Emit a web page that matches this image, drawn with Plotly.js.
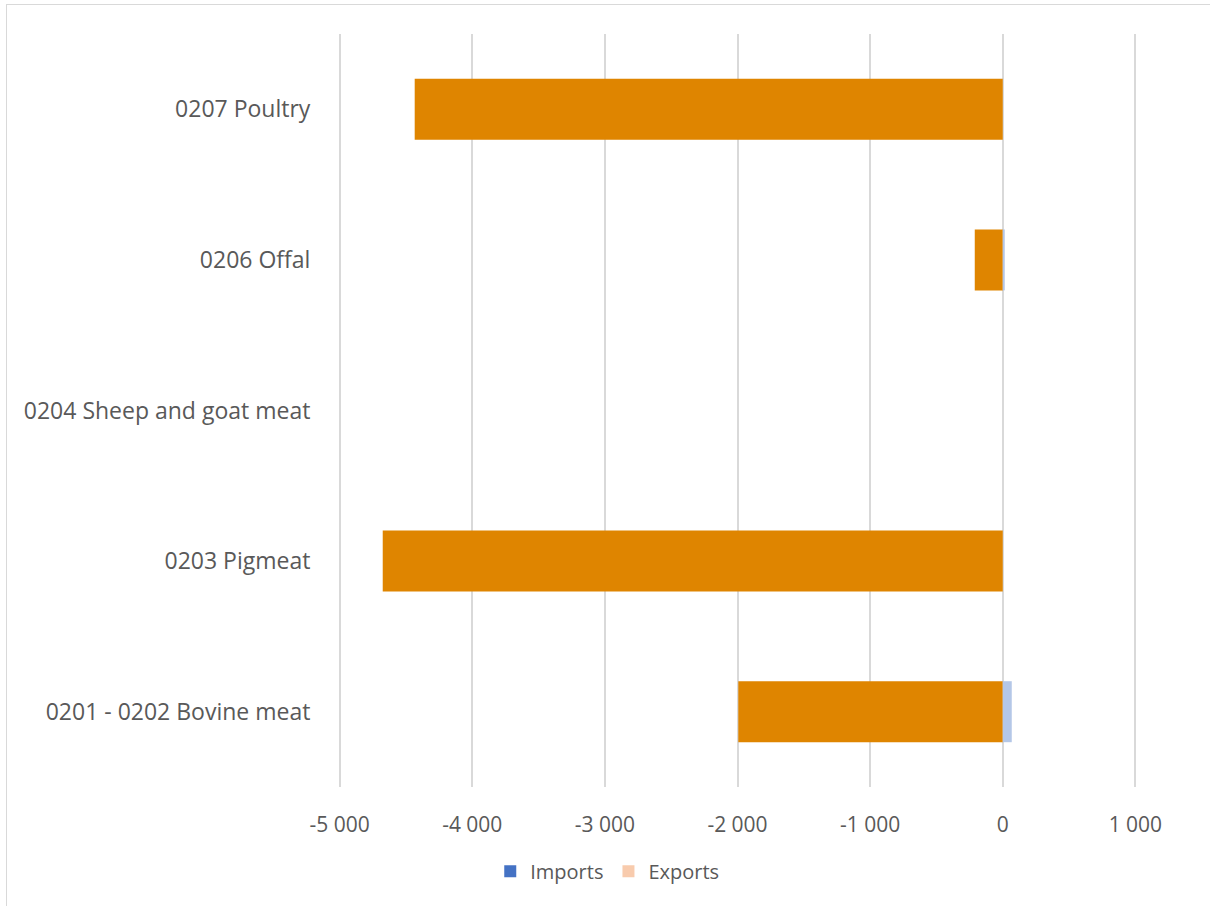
<!DOCTYPE html>
<html>
<head>
<meta charset="utf-8">
<script src="https://cdn.plot.ly/plotly-3.0.1.min.js"></script>
<style>
  html, body { margin: 0; padding: 0; background: #ffffff; }
  #wrap { position: relative; width: 1210px; height: 907px; overflow: hidden; }
  #chart { position: absolute; left: 0; top: 0; width: 1210px; height: 907px; }
  #frame { position: absolute; left: 6px; top: 4px; width: 1300px; height: 901px;
           border-top: 1px solid #d9d9d9; border-left: 1px solid #d9d9d9;
           pointer-events: none; }
</style>
</head>
<body>
<div id="wrap">
  <div id="chart"></div>
  <div id="frame"></div>
</div>
<script>
// Meat product groups, listed bottom to top
const categories = [
  '0201 - 0202 Bovine meat',
  '0203 Pigmeat',
  '0204 Sheep and goat meat',
  '0206 Offal',
  '0207 Poultry'
];

// Trade balance per product group (negative part)
const balanceNegative = [-1994, -4675, 0, -211, -4434];
// Trade balance per product group (positive part)
const balancePositive = [68, 0, 0, 15, 0];

// Legend series
const legendNames = ['Imports', 'Exports'];

const textColor = '#595959';
const gridColor = '#d9d9d9';

const traces = [
  {
    type: 'bar', orientation: 'h', name: 'Net balance',
    y: categories, x: balanceNegative,
    marker: { color: '#df8500', line: { width: 0 } },
    showlegend: false, hoverinfo: 'x+y'
  },
  {
    type: 'bar', orientation: 'h', name: 'Positive balance',
    y: categories, x: balancePositive,
    marker: { color: '#b4c7e7', line: { width: 0 } },
    showlegend: false, hoverinfo: 'x+y'
  },
  {
    type: 'bar', orientation: 'h', name: legendNames[0],
    y: [categories[0]], x: [null],
    marker: { color: '#4472c4' }, showlegend: true, hoverinfo: 'skip'
  },
  {
    type: 'bar', orientation: 'h', name: legendNames[1],
    y: [categories[0]], x: [null],
    marker: { color: '#f8cbad' }, showlegend: true, hoverinfo: 'skip'
  }
];

const layout = {
  width: 1210, height: 907,
  paper_bgcolor: '#ffffff', plot_bgcolor: '#ffffff',
  margin: { l: 333, r: 68, t: 34, b: 120, pad: 0 },
  barmode: 'relative',
  bargap: 0.595,
  font: { family: '"Open Sans", "DejaVu Sans", sans-serif', color: textColor },
  xaxis: {
    range: [-5050, 1050],
    tickvals: [-5000, -4000, -3000, -2000, -1000, 0, 1000],
    ticktext: ['-5 000', '-4 000', '-3 000', '-2 000', '-1 000', '0', '1 000'],
    showgrid: true, gridcolor: gridColor, gridwidth: 2,
    zeroline: true, zerolinecolor: gridColor, zerolinewidth: 2,
    showline: false,
    ticks: 'outside', ticklen: 19, tickcolor: 'rgba(0,0,0,0)',
    tickfont: { size: 21, color: textColor },
    fixedrange: true
  },
  yaxis: {
    type: 'category',
    categoryorder: 'array', categoryarray: categories,
    showgrid: false, zeroline: false, showline: false,
    ticks: 'outside', ticklen: 17, tickcolor: 'rgba(0,0,0,0)',
    tickfont: { size: 23, color: textColor },
    fixedrange: true
  },
  showlegend: true,
  legend: {
    orientation: 'h',
    x: 0.339, xanchor: 'center',
    y: -0.112, yanchor: 'middle',
    font: { size: 20, color: textColor },
    itemwidth: 30,
    traceorder: 'normal',
    bgcolor: 'rgba(0,0,0,0)'
  }
};

Plotly.newPlot('chart', traces, layout, { displayModeBar: false, staticPlot: true });
</script>
</body>
</html>
